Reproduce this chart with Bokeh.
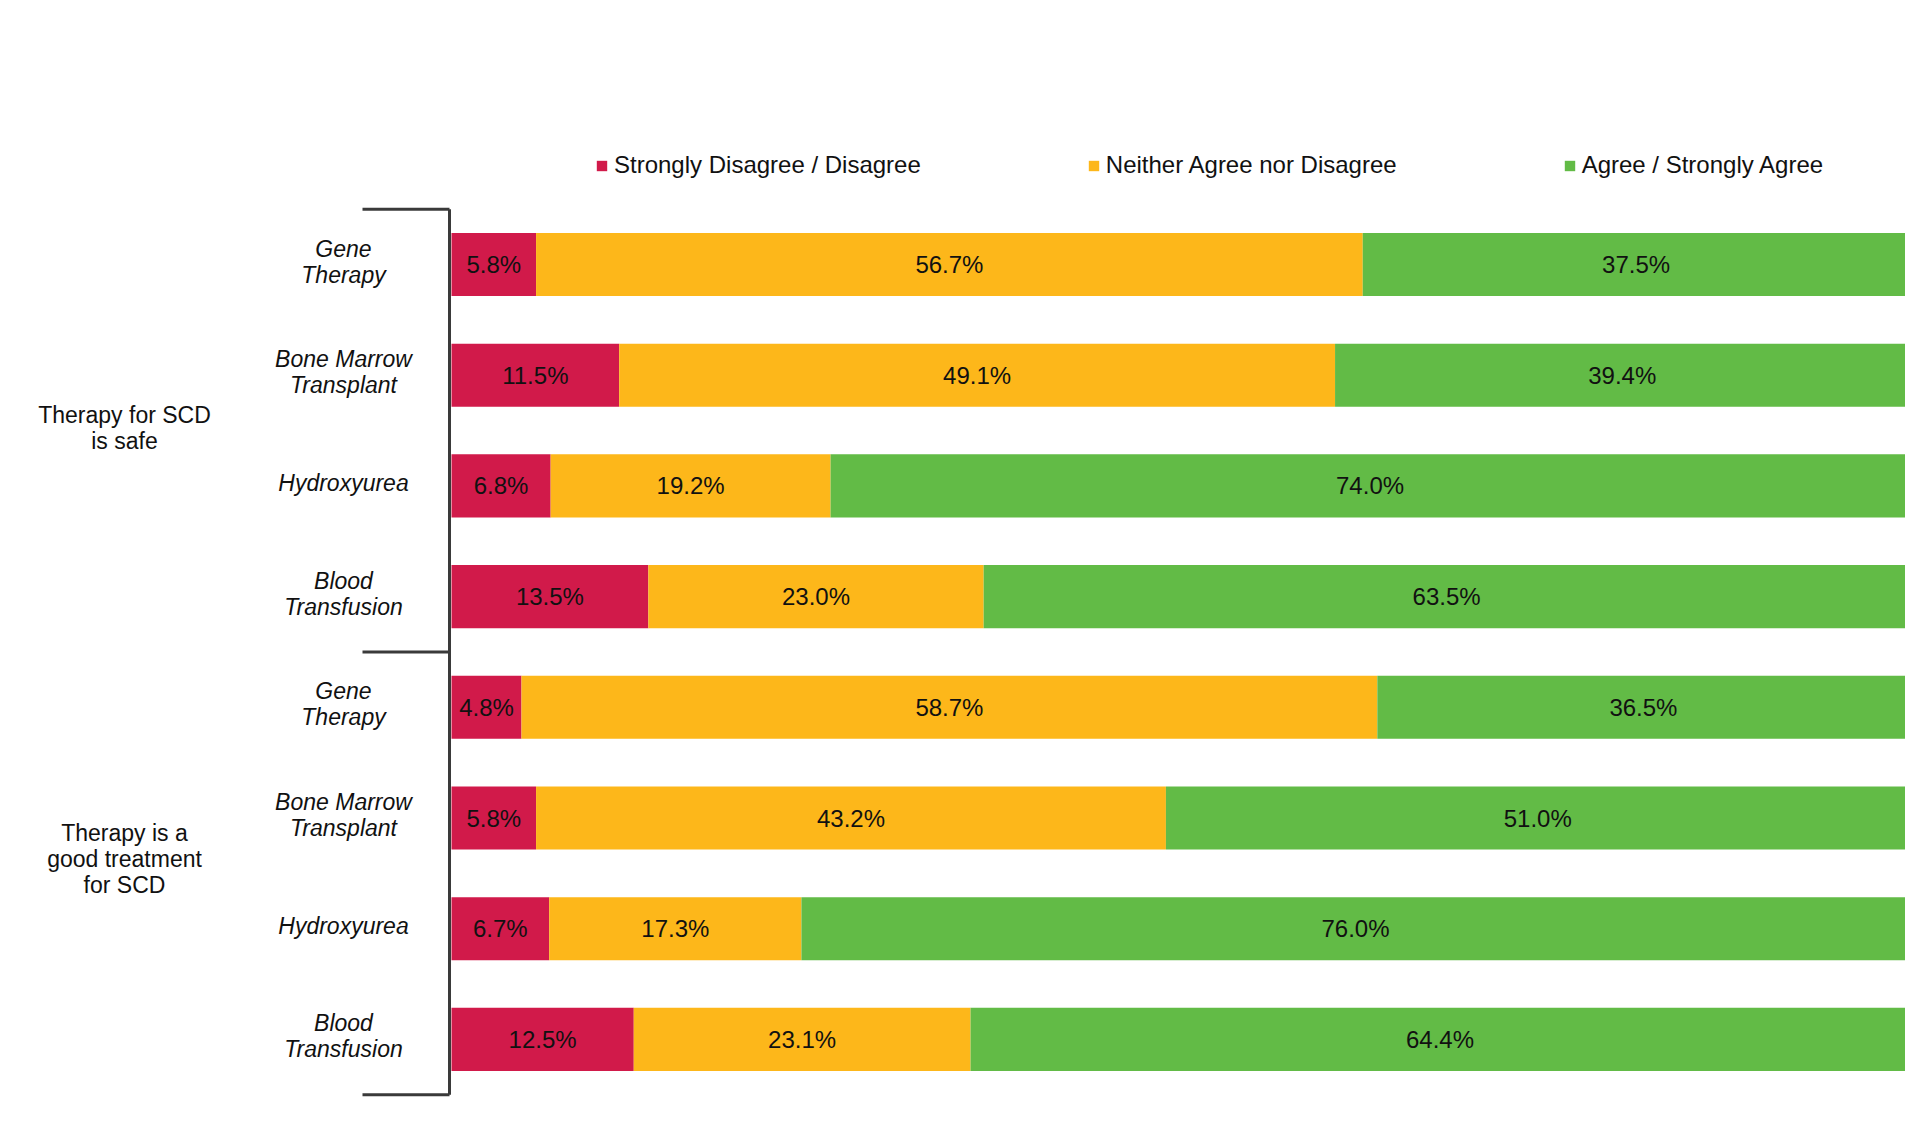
import numpy as np
from bokeh.plotting import figure
from bokeh.models import ColumnDataSource, Range1d, Legend, LegendItem
from bokeh.core.properties import value
from bokeh.embed import file_html
from bokeh.resources import INLINE

# ---------------- data ----------------
groups = ["Therapy for SCD\nis safe", "Therapy is a\ngood treatment\nfor SCD"]
treatments = ["Gene\nTherapy", "Bone Marrow\nTransplant", "Hydroxyurea", "Blood\nTransfusion"]
series = ["Strongly Disagree / Disagree", "Neither Agree nor Disagree", "Agree / Strongly Agree"]
disagree = [5.8, 11.5, 6.8, 13.5, 4.8, 5.8, 6.7, 12.5]
neutral = [56.7, 49.1, 19.2, 23.0, 58.7, 43.2, 17.3, 23.1]
agree = [37.5, 39.4, 74.0, 63.5, 36.5, 51.0, 76.0, 64.4]
colors = ["#D11A4A", "#FDB71A", "#62BB46"]

FONT = "Liberation Sans"

# ---------------- layout ----------------
W, H = 1905, 1110
PX_X = 14.58          # pixels per percent
LEFT = 451            # canvas px where 0% sits
PX_Y = 110.7          # pixels per row
ROW1 = 264            # canvas px of first row centre

x0 = -LEFT / PX_X
x1 = x0 + W / PX_X
y_top = 1 - ROW1 / PX_Y
y_bot = y_top + H / PX_Y

p = figure(width=W, height=H, output_backend="svg", toolbar_location=None,
           x_range=Range1d(x0, x1), y_range=Range1d(y_bot, y_top),
           x_axis_type=None, y_axis_type=None,
           min_border=0, min_border_left=0, min_border_right=0,
           min_border_top=0, min_border_bottom=0)
p.grid.visible = False
p.outline_line_color = None
p.background_fill_color = "white"

n = len(disagree)
rows = list(range(1, n + 1))
src = ColumnDataSource(dict(row=rows, d=disagree, n=neutral, a=agree))

def dx(px):
    return px / PX_X

# bracket
bracket_color = "#3A3A3A"
p.segment(x0=[-dx(2)], y0=[0.5], x1=[-dx(2)], y1=[n + 0.5],
          line_color=bracket_color, line_width=3)
bounds = [0.5, 4.5, n + 0.5]
p.segment(x0=[-dx(89)] * 3, y0=bounds, x1=[-dx(2)] * 3, y1=bounds,
          line_color=bracket_color, line_width=3)

renderers = p.hbar_stack(["d", "n", "a"], y="row", height=0.57, source=src,
                         color=colors, line_color=None)

# value labels
lx, ly, lt = [], [], []
for i in range(n):
    vals = [disagree[i], neutral[i], agree[i]]
    cum = 0
    for v in vals:
        lx.append(cum + v / 2)
        ly.append(rows[i])
        lt.append(f"{v:.1f}%")
        cum += v
p.text(x=lx, y=ly, text=lt, text_font=value(FONT), text_font_size="24px",
       text_align="center", text_baseline="middle", text_color="#111111")

# category labels
cat_labels = treatments * 2
p.text(x=[0] * n, y=rows, text=cat_labels, x_offset=-108, y_offset=-3,
       text_font=value(FONT), text_font_size="23px", text_font_style="italic",
       text_align="center", text_baseline="middle", text_color="#111111",
       text_line_height=1.0)

# group labels
p.text(x=[0, 0], y=[2.5, 6.5], text=groups, x_offset=-327, y_offset=[-3, -14],
       text_font=value(FONT), text_font_size="23px",
       text_align="center", text_baseline="middle", text_color="#111111",
       text_line_height=1.0)

legend = Legend(items=[LegendItem(label=s, renderers=[r]) for s, r in zip(series, renderers)],
                orientation="horizontal", location=(595, 931),
                glyph_width=13, glyph_height=13, label_standoff=6, spacing=166,
                padding=0, margin=0, border_line_alpha=0, background_fill_alpha=0,
                label_text_font=FONT, label_text_font_size="24px", label_text_color="#111111")
p.add_layout(legend, "center")

open("out.html", "w").write(file_html(p, INLINE))
